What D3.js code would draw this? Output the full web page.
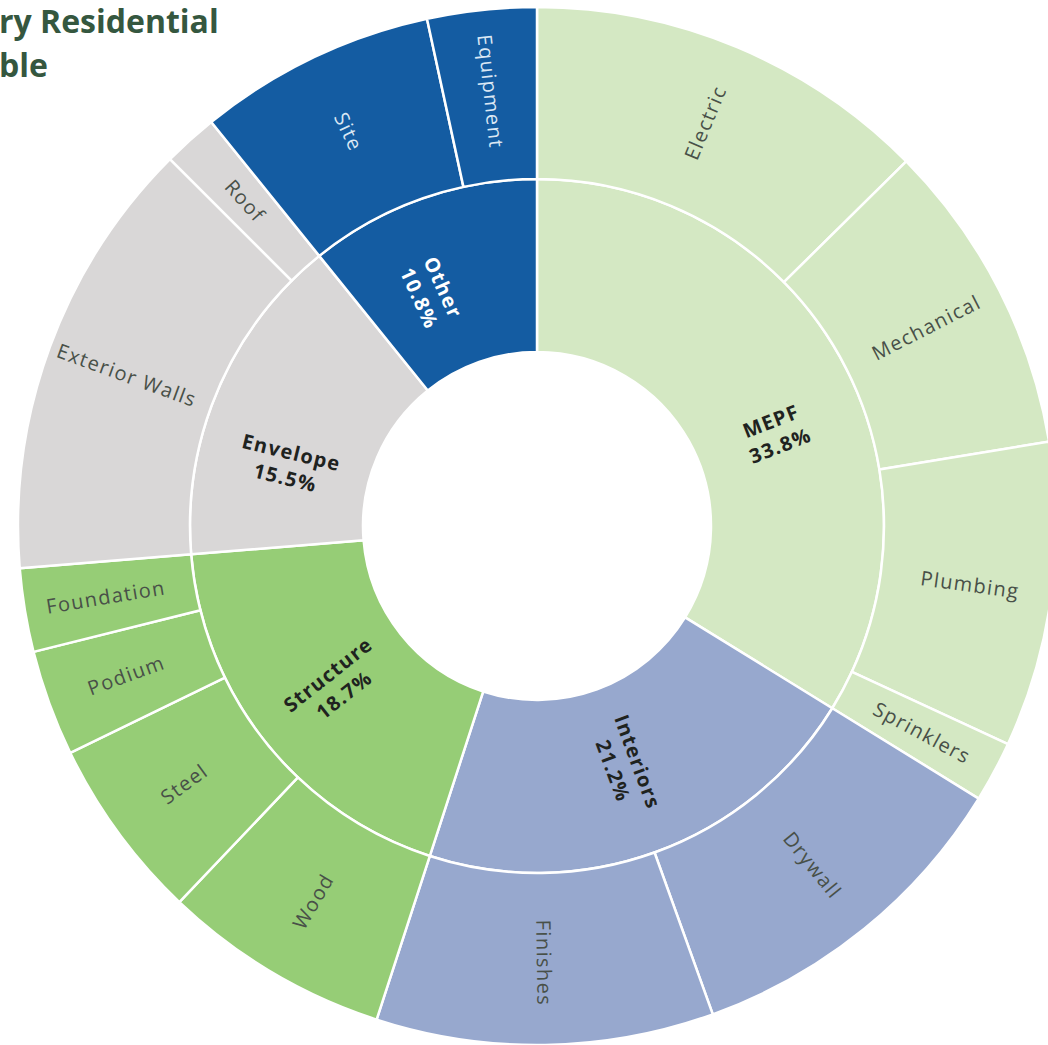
<!DOCTYPE html>
<html>
<head>
<meta charset="utf-8">
<script src="https://cdn.jsdelivr.net/npm/d3@7"></script>
<style>
  html, body { margin: 0; padding: 0; background: #fff; overflow: hidden; }
  svg { display: block; }
</style>
</head>
<body>
<svg id="chart" width="1048" height="1045"></svg>
<script>
// Cost categories (inner ring) and their line items (outer ring), in % of total cost
const groups = ["MEPF", "Interiors", "Structure", "Envelope", "Other"];
const groupColors = ["#d4e8c3", "#97a8ce", "#96cd76", "#d9d7d7", "#145ca2"];

const mepfItems = ["Electric", "Mechanical", "Plumbing", "Sprinklers"];
const mepfShares = [12.6, 9.8, 9.5, 1.9];

const interiorsItems = ["Drywall", "Finishes"];
const interiorsShares = [10.7, 10.5];

const structureItems = ["Wood", "Steel", "Podium", "Foundation"];
const structureShares = [7.1, 5.7, 3.3, 2.6];

const envelopeItems = ["Exterior Walls", "Roof"];
const envelopeShares = [13.8, 1.7];

const otherItems = ["Site", "Equipment"];
const otherShares = [7.4, 3.4];

const titleLines = ["ry Residential", "ble"];

// ---- layout ----
const width = 1048, height = 1045;
const cx = 537, cy = 526;
const ringRadius = d3.scaleLinear().domain([1, 2, 3]).range([174, 347, 519]);
// small angular nudges (degrees) for a few category labels
const labelNudge = { MEPF: 8, Envelope: -9.5, Other: -5 };

const itemLists = [mepfItems, interiorsItems, structureItems, envelopeItems, otherItems];
const shareLists = [mepfShares, interiorsShares, structureShares, envelopeShares, otherShares];

const tree = {
  name: "root",
  children: groups.map((g, i) => ({
    name: g,
    color: groupColors[i],
    children: itemLists[i].map((n, j) => ({ name: n, value: shareLists[i][j] }))
  }))
};

const root = d3.hierarchy(tree).sum(d => d.value || 0);
d3.partition().size([2 * Math.PI, 3])(root);

const svg = d3.select("#chart");

// title (runs off the left edge of the canvas)
const title = svg.append("text")
  .attr("x", -1).attr("y", 33)
  .attr("font-family", "'Open Sans', sans-serif")
  .attr("font-weight", 700)
  .attr("font-size", 32)
  .attr("fill", "#35573f");
title.selectAll("tspan").data(titleLines).join("tspan")
  .attr("x", -1)
  .attr("dy", (d, i) => i === 0 ? 0 : 44)
  .text(d => d);

const g = svg.append("g").attr("transform", `translate(${cx},${cy})`);

const arc = d3.arc()
  .startAngle(d => d.x0)
  .endAngle(d => d.x1)
  .innerRadius(d => ringRadius(d.y0))
  .outerRadius(d => ringRadius(d.y1));

const colorOf = d => (d.depth === 1 ? d.data.color : d.parent.data.color);

const nodes = root.descendants().filter(d => d.depth > 0);

g.selectAll("path.seg").data(nodes).join("path")
  .attr("class", "seg")
  .attr("d", arc)
  .attr("fill", colorOf)
  .attr("stroke", "#ffffff")
  .attr("stroke-width", 2.5)
  .attr("stroke-linejoin", "round");

function placement(d, radius, nudgeDeg) {
  const deg = ((d.x0 + d.x1) / 2) * 180 / Math.PI + (nudgeDeg || 0);
  const a = deg * Math.PI / 180;
  const x = Math.sin(a) * radius, y = -Math.cos(a) * radius;
  const rot = deg < 180 ? deg - 90 : deg + 90;
  return `translate(${x},${y}) rotate(${rot})`;
}

// outer ring labels
const leaves = root.leaves();
g.selectAll("text.item").data(leaves).join("text")
  .attr("class", "item")
  .attr("transform", d => placement(d, 437))
  .attr("text-anchor", "middle")
  .attr("dy", "0.35em")
  .attr("font-family", "'Open Sans', sans-serif")
  .attr("font-weight", 400)
  .attr("font-size", 20)
  .attr("letter-spacing", 1.4)
  .attr("fill", d => d.parent.data.name === "Other" ? "#dbe7f4" : "#485048")
  .text(d => d.data.name);

// inner ring labels: name + share
const fmt = d3.format(".1f");
const cats = root.children;
const catText = g.selectAll("text.cat").data(cats).join("text")
  .attr("class", "cat")
  .attr("transform", d => placement(d, 256, labelNudge[d.data.name]))
  .attr("text-anchor", "middle")
  .attr("font-family", "'Open Sans', sans-serif")
  .attr("font-weight", 700)
  .attr("font-size", 20)
  .attr("letter-spacing", 1.3)
  .attr("fill", d => d.data.name === "Other" ? "#ffffff" : "#1f231f");

catText.append("tspan").attr("x", 0).attr("dy", "-0.3em").text(d => d.data.name);
catText.append("tspan").attr("x", 0).attr("dy", "1.3em").text(d => fmt(d.value) + "%");
</script>
</body>
</html>
